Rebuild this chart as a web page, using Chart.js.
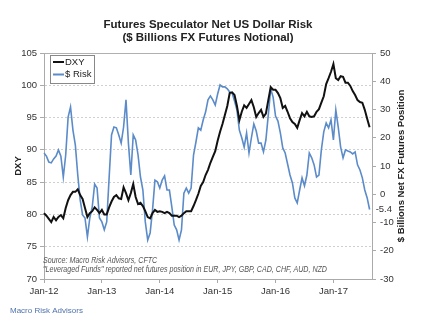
<!DOCTYPE html>
<html>
<head>
<meta charset="utf-8">
<script src="https://cdn.jsdelivr.net/npm/chart.js@4.4.1/dist/chart.umd.min.js"></script>
<style>
  html, body { margin: 0; padding: 0; background: #fff; }
  canvas { display: block; }
</style>
</head>
<body>
<canvas id="myChart" width="425" height="322"></canvas>
<script>

// two readings per month, Jan-12 .. Aug-17
var tickLabels = ['Jan-12', 'Jan-13', 'Jan-14', 'Jan-15', 'Jan-16', 'Jan-17'];

var dxy = [
    80.2, 79.8, 79.3, 78.8, 79.6, 79.1, 79.6, 79.9, 79.4, 81.0,
    82.2, 83.0, 83.5, 83.5, 83.9, 83.0, 82.4, 81.0, 79.6, 80.2,
    80.5, 81.1, 80.7, 80.2, 80.7, 80.0, 80.0, 81.1, 82.0, 82.7,
    83.0, 82.5, 82.4, 84.2, 83.3, 82.2, 83.3, 84.7, 82.7, 81.6,
    81.8, 81.3, 80.5, 79.6, 79.4, 80.2, 80.7, 80.4, 80.5, 80.4,
    80.2, 80.4, 80.2, 79.8, 79.8, 79.8, 79.6, 79.8, 80.2, 80.5,
    80.5, 80.5, 81.3, 82.2, 83.2, 84.4, 85.0, 86.1, 86.9, 88.0,
    88.9, 89.8, 91.4, 92.8, 94.0, 95.4, 96.8, 98.8, 98.9, 98.5,
    96.8, 94.6, 95.9, 96.9, 96.5, 97.1, 97.7, 96.6, 95.1, 95.7,
    96.2, 95.1, 95.6, 97.7, 99.7, 99.3, 99.3, 98.8, 98.0, 96.5,
    96.8, 95.9, 94.9, 94.3, 94.0, 93.4, 94.6, 95.7, 95.2, 95.9,
    95.2, 95.1, 95.2, 95.9, 96.3, 97.3, 98.3, 100.2, 101.1, 102.1,
    103.3, 101.1, 100.8, 101.4, 101.3, 100.4, 100.4, 99.9, 99.1, 98.5,
    97.7, 97.4, 97.3, 96.2, 94.8, 93.5
];

var dollarRisk = [
    14.6, 13.5, 11.4, 11.1, 12.5, 13.5, 15.7, 13.5, 6.1, 13.9,
    27.3, 30.9, 22.7, 17.4, 6.8, -2.0, -7.3, -8.4, -15.1, -8.4,
    -4.5, 3.6, 2.2, -8.4, -9.8, -12.6, -9.8, 5.8, 21.0, 23.8,
    23.5, 21.0, 18.1, 23.8, 33.4, 18.1, 6.8, 21.0, 19.2, 13.9,
    6.1, 1.5, -9.8, -16.2, -13.7, -5.6, 5.0, 4.4, 2.2, 5.0,
    6.5, 1.5, 1.5, -4.5, -10.9, -12.6, -16.2, -12.6, 0.4, 2.2,
    0.4, 2.2, 13.9, 18.5, 23.5, 22.7, 26.3, 29.1, 33.4, 34.8,
    33.4, 31.6, 35.5, 38.7, 38.0, 38.0, 37.3, 36.2, 35.8, 33.0,
    29.8, 22.7, 20.0, 16.7, 21.7, 14.6, 20.0, 24.9, 22.4, 18.1,
    18.1, 15.0, 19.2, 28.1, 37.3, 34.4, 27.7, 25.9, 21.7, 16.4,
    14.6, 10.7, 6.8, 4.0, -1.3, -3.1, 1.5, 5.8, 3.0, 6.8,
    14.6, 12.9, 10.4, 6.1, 6.8, 15.7, 22.1, 25.2, 23.5, 26.3,
    19.2, 29.8, 23.8, 16.7, 12.9, 15.7, 15.3, 15.0, 14.3, 15.0,
    10.4, 8.6, 5.8, 1.5, -1.3, -5.4
];

var titleLines = ['Futures Speculator Net US Dollar Risk', '($ Billions FX Futures Notional)'];
var rightTitle = '$ Billions Net FX Futures Position';
var sourceLines = [
    'Source: Macro Risk Advisors, CFTC',
    '"Leveraged Funds" reported net futures position in EUR, JPY, GBP, CAD, CHF, AUD, NZD'
];
var footer = 'Macro Risk Advisors';

var DXY_COLOR = '#111111';
var RISK_COLOR = '#5b8bc8';

// half-month periods, one extra slot after the last reading
var monthNames = ['Jan', 'Feb', 'Mar', 'Apr', 'May', 'Jun', 'Jul', 'Aug', 'Sep', 'Oct', 'Nov', 'Dec'];
var periods = [];
for (var i = 0; i <= dxy.length; i++) {
    var m = Math.floor(i / 2);
    periods.push(monthNames[m % 12] + '-' + (12 + Math.floor(m / 12)));
}

Chart.defaults.font.family = '"Liberation Sans", Arial, sans-serif';

var extras = {
    id: 'extras',
    afterDraw: function (chart) {
        var ctx = chart.ctx;
        var area = chart.chartArea;
        var y1 = chart.scales.y1;
        ctx.save();

        // top frame line
        ctx.strokeStyle = '#b0b0b0';
        ctx.lineWidth = 1;
        ctx.beginPath();
        ctx.moveTo(area.left, area.top + 0.5);
        ctx.lineTo(area.right, area.top + 0.5);
        ctx.stroke();

        // title
        ctx.fillStyle = '#222';
        ctx.textAlign = 'center';
        ctx.textBaseline = 'middle';
        ctx.font = 'bold 11.5px "Liberation Sans", Arial';
        ctx.fillText(titleLines[0], 208, 25);
        ctx.fillText(titleLines[1], 208, 38);

        // right axis title, reads bottom to top
        ctx.save();
        ctx.translate(401, (area.top + area.bottom) / 2);
        ctx.rotate(-Math.PI / 2);
        ctx.font = 'bold 9.5px "Liberation Sans", Arial';
        ctx.fillText(rightTitle, 0, 0);
        ctx.restore();

        // last $ Risk value on the right axis
        var last = dollarRisk[dollarRisk.length - 1];
        ctx.textAlign = 'right';
        ctx.font = '9.5px "Liberation Sans", Arial';
        ctx.fillStyle = '#333';
        ctx.fillText(last.toFixed(1), 392, y1.getPixelForValue(last));

        // legend box
        ctx.fillStyle = '#fff';
        ctx.fillRect(50, 55, 44, 28);
        ctx.strokeStyle = '#888';
        ctx.strokeRect(50.5, 55.5, 44, 28);
        var items = [[chart.data.datasets[0], 62], [chart.data.datasets[1], 74.5]];
        items.forEach(function (it) {
            ctx.strokeStyle = it[0].borderColor;
            ctx.lineWidth = 2;
            ctx.beginPath();
            ctx.moveTo(53, it[1]);
            ctx.lineTo(64, it[1]);
            ctx.stroke();
            ctx.fillStyle = '#222';
            ctx.textAlign = 'left';
            ctx.font = '9.5px "Liberation Sans", Arial';
            ctx.fillText(it[0].label, 65, it[1]);
        });

        // source note, squeezed to the narrow original font width
        ctx.font = 'italic 8.5px "Liberation Sans", Arial';
        ctx.fillStyle = '#555';
        ctx.textAlign = 'left';
        var sx = 284 / ctx.measureText(sourceLines[1]).width;
        ctx.save();
        ctx.translate(43, 0);
        ctx.scale(sx, 1);
        ctx.fillText(sourceLines[0], 0, 260.5);
        ctx.fillText(sourceLines[1], 0, 270);
        ctx.restore();

        // footer
        ctx.font = '8px "Liberation Sans", Arial';
        ctx.fillStyle = '#4e72ad';
        ctx.fillText(footer, 10, 311);

        ctx.restore();
    }
};

var chartId = document.getElementById('myChart').getContext('2d');

var myChart = new Chart(chartId, {
    type: 'line',
    data: {
        labels: periods,
        datasets: [{
            label: 'DXY',
            data: dxy,
            yAxisID: 'y',
            borderColor: DXY_COLOR,
            borderWidth: 2,
            pointRadius: 0,
            tension: 0
        }, {
            label: '$ Risk',
            data: dollarRisk,
            yAxisID: 'y1',
            borderColor: RISK_COLOR,
            borderWidth: 1.6,
            pointRadius: 0,
            tension: 0
        }]
    },
    options: {
        responsive: false,
        animation: false,
        devicePixelRatio: 1,
        layout: { padding: { top: 53, left: 0, right: 0, bottom: 0 } },
        plugins: {
            legend: { display: false },
            title: { display: false },
            tooltip: { enabled: false }
        },
        scales: {
            x: {
                ticks: {
                    autoSkip: false,
                    maxRotation: 0,
                    color: '#333',
                    font: { size: 9.5 },
                    padding: 3,
                    callback: function (v, i) { return i % 24 === 0 ? tickLabels[i / 24] : null; }
                },
                grid: { drawOnChartArea: false, tickLength: 4, color: '#aaa' },
                border: { color: '#aaa' },
                afterFit: function (s) { s.height = 43; }
            },
            y: {
                position: 'left',
                min: 70,
                max: 105,
                ticks: { stepSize: 5, color: '#333', font: { size: 9.5 }, padding: 3 },
                grid: {
                    color: function (c) {
                        return (c.tick.value === 70 || c.tick.value === 105) ? 'rgba(0,0,0,0)' : '#cfcfcf';
                    },
                    tickColor: '#aaa',
                    tickLength: 4
                },
                border: { color: '#aaa', dash: [2, 2] },
                title: {
                    display: true,
                    text: 'DXY',
                    color: '#222',
                    font: { size: 9.5, weight: 'bold' },
                    padding: { top: 13, bottom: 0 }
                },
                afterFit: function (s) { s.width = 44; }
            },
            y1: {
                position: 'right',
                min: -30,
                max: 50,
                ticks: { stepSize: 10, color: '#333', font: { size: 9.5 }, padding: 4 },
                grid: { drawOnChartArea: false, tickLength: 4, color: '#aaa' },
                border: { color: '#aaa' },
                afterFit: function (s) { s.width = 53; }
            }
        }
    },
    plugins: [extras]
});
</script>
</body>
</html>
